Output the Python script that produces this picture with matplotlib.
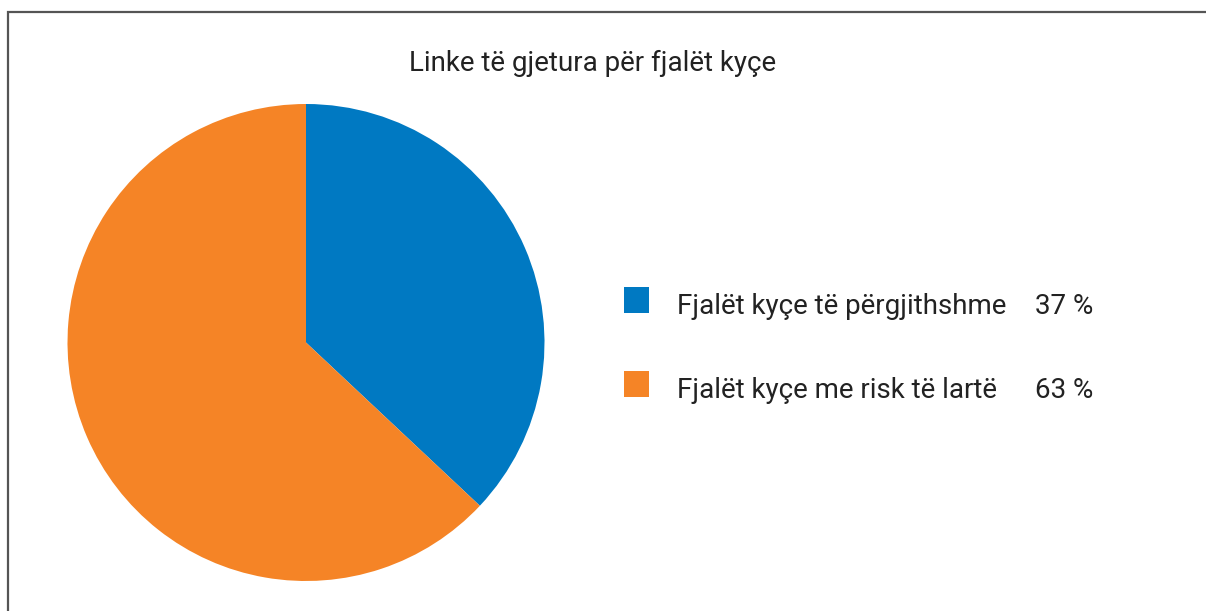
import matplotlib.pyplot as plt
from matplotlib.patches import Rectangle

plt.rcParams['font.family'] = ['Roboto', 'DejaVu Sans']

title = 'Linke të gjetura për fjalët kyçe'
labels = ['Fjalët kyçe të përgjithshme', 'Fjalët kyçe me risk të lartë']
values = [37, 63]
colors = ['#0079c2', '#f58426']

W, H = 1206, 611
fig = plt.figure(figsize=(W / 100, H / 100), dpi=100)

# frame round the chart (open on the right and bottom like the reference)
fig.patches.append(Rectangle((7.5 / W, -0.1), 1.2, (H - 12) / H + 0.1,
                             transform=fig.transFigure, fill=False,
                             edgecolor='#555555', linewidth=1.6))

fig.text(593 / W, 1 - 71 / H, title, ha='center', va='baseline',
         fontsize=20, color='#222222')

ax = fig.add_axes([67 / W, 30 / H, 478 / W, 477 / H])
ax.pie(values, colors=colors, startangle=90, counterclock=False,
       wedgeprops=dict(linewidth=0))
ax.set_xlim(-1, 1)
ax.set_ylim(-1, 1)
ax.set_aspect('equal')

# legend drawn by hand
rows_y = [314, 398]
for lab, val, col, yb in zip(labels, values, colors, rows_y):
    fig.patches.append(Rectangle((624 / W, 1 - (yb - 1) / H), 25 / W, 26 / H,
                                 transform=fig.transFigure, facecolor=col,
                                 edgecolor='none'))
    fig.text(677 / W, 1 - yb / H, lab, ha='left', va='baseline',
             fontsize=20, color='#222222')
    fig.text(1035 / W, 1 - yb / H, f'{val} %', ha='left', va='baseline',
             fontsize=20, color='#222222')

fig.savefig('out.png', dpi=100)
